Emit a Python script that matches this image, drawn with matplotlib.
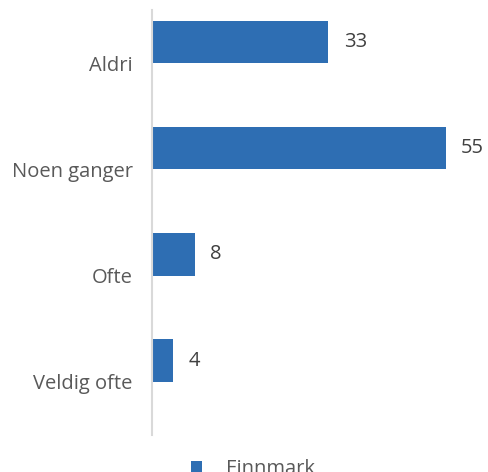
import matplotlib
matplotlib.use('Agg')
import matplotlib.pyplot as plt
import numpy as np

categories = ['Aldri', 'Noen ganger', 'Ofte', 'Veldig ofte']
finnmark = [33, 55, 8, 4]
series_name = 'Finnmark'

plt.rcParams['font.family'] = ['Open Sans', 'DejaVu Sans']

fig = plt.figure(figsize=(4.89, 4.72), dpi=100)
ax = fig.add_axes([152 / 489, 37 / 472, 331 / 489, 425 / 472])

y = np.arange(len(categories))
bars = ax.barh(y - 0.2, finnmark, height=0.4, color='#2E6EB3', label=series_name)

for b, v in zip(bars, finnmark):
    ax.text(b.get_width() + 2.9, b.get_y() + b.get_height() / 2, str(v),
            va='center', ha='left', fontsize=14.5, color='#404040')

ax.set_xlim(0, 62)
ax.set_ylim(len(categories) - 0.5, -0.5)
ax.set_yticks(y)
ax.set_yticklabels(categories, fontsize=14.5, color='#595959')
ax.tick_params(axis='y', length=0, pad=14)
ax.set_xticks([])

for s in ['top', 'right', 'bottom']:
    ax.spines[s].set_visible(False)
ax.spines['left'].set_color('#d9d9d9')
ax.spines['left'].set_linewidth(1.5)

fig.legend(handles=[bars], labels=[series_name], loc='upper left',
           bbox_to_anchor=(173 / 489, 1 - 441 / 472), frameon=False,
           fontsize=14.5, handlelength=0.55, handleheight=0.55, handletextpad=1.2,
           labelcolor='#595959')

fig.savefig('out.png', dpi=100)
